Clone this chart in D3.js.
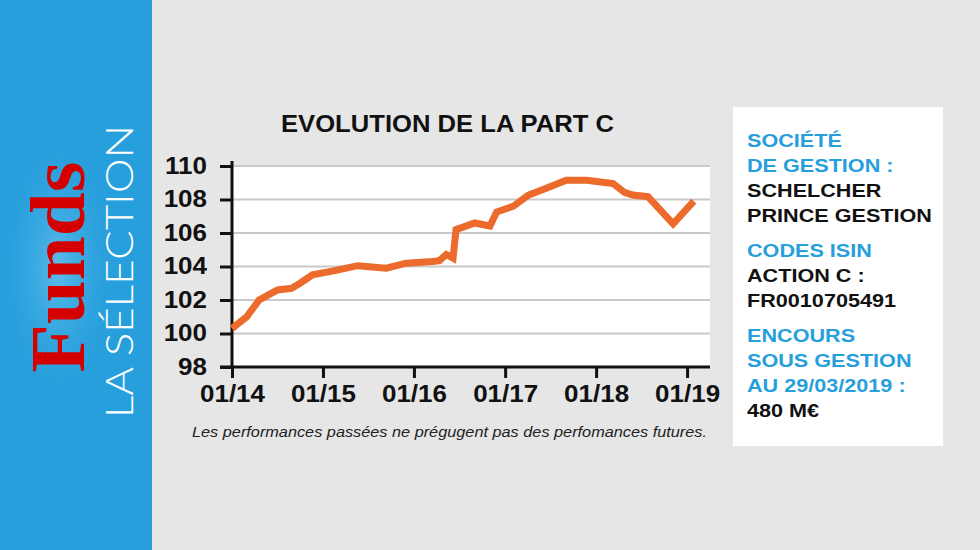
<!DOCTYPE html>
<html>
<head>
<meta charset="utf-8">
<script src="https://cdn.jsdelivr.net/npm/d3@7"></script>
<style>
  body { margin: 0; background: #e6e6e6; }
</style>
</head>
<body>
<script>
// Values
var dates = ["2014-01-01", "2014-03-01", "2014-04-20", "2014-07-03", "2014-08-28", "2014-10-01",
             "2014-11-20", "2015-02-18", "2015-05-20", "2015-09-12", "2015-12-01", "2016-03-15",
             "2016-04-12", "2016-05-10", "2016-06-06", "2016-06-18", "2016-09-01", "2016-11-01",
             "2016-11-28", "2017-02-03", "2017-04-03", "2017-06-15", "2017-09-03", "2017-11-25",
             "2018-03-10", "2018-04-25", "2018-05-28", "2018-07-28", "2018-11-06", "2019-01-28"];
var values = [100.3, 101.0, 102.0, 102.6, 102.7, 103.0,
              103.5, 103.75, 104.05, 103.9, 104.2, 104.3,
              104.35, 104.72, 104.5, 106.2, 106.6, 106.42,
              107.25, 107.6, 108.25, 108.67, 109.15, 109.15,
              108.95, 108.42, 108.27, 108.17, 106.55, 107.9];

var yTicks = [98, 100, 102, 104, 106, 108, 110];
var xTickDates = ["2014-01-01", "2015-01-01", "2016-01-01", "2017-01-01", "2018-01-01", "2019-01-01"];
var xTickLabels = ["01/14", "01/15", "01/16", "01/17", "01/18", "01/19"];

var chartTitle = "EVOLUTION DE LA PART C";
var disclaimer = "Les performances passées ne prégugent pas des perfomances futures.";

var infoHeadings = [["SOCIÉTÉ", "DE GESTION :"], ["CODES ISIN"], ["ENCOURS", "SOUS GESTION", "AU 29/03/2019 :"]];
var infoValues = [["SCHELCHER", "PRINCE GESTION"], ["ACTION C :", "FR0010705491"], ["480 M€"]];

var blue = "#279fdc";
var orange = "#eb6a2c";
var stretch = 1.13;   // the type in the reference looks widened

var parseDate = d3.timeParse("%Y-%m-%d");

var w = 980, h = 550;
var svg = d3.select("body").append("svg")
            .attr("width", w)
            .attr("height", h);

svg.append("rect").attr("width", w).attr("height", h).attr("fill", "#e6e6e6");

// Sidebar
var defs = svg.append("defs");
var glow = defs.append("radialGradient").attr("id", "glow")
               .attr("cx", "50%").attr("cy", "50%").attr("r", "50%");
glow.append("stop").attr("offset", "0%").attr("stop-color", "#6cc3ee").attr("stop-opacity", 0.8);
glow.append("stop").attr("offset", "100%").attr("stop-color", blue).attr("stop-opacity", 0);

svg.append("rect").attr("x", 0).attr("y", 0).attr("width", 152).attr("height", h).attr("fill", blue);
svg.append("ellipse").attr("cx", 58).attr("cy", 268).attr("rx", 60).attr("ry", 140).attr("fill", "url(#glow)");

svg.append("text")
   .attr("transform", "translate(84,267) rotate(-90)")
   .attr("text-anchor", "middle")
   .attr("font-family", "'Liberation Serif', 'DejaVu Serif', serif")
   .attr("font-weight", "bold")
   .attr("font-size", 79)
   .attr("fill", "#d40000")
   .text("Funds");

svg.append("text")
   .attr("transform", "translate(133,418) rotate(-90)")
   .attr("font-family", "Lato, 'Open Sans', sans-serif")
   .attr("font-weight", 300)
   .attr("font-size", 38)
   .attr("fill", "#ffffff")
   .attr("textLength", 293)
   .attr("lengthAdjust", "spacingAndGlyphs")
   .text("LA SÉLECTION");

// Chart
var x = d3.scaleTime()
          .domain([parseDate("2014-01-01"), parseDate("2019-04-03")])
          .range([232, 710]);
var y = d3.scaleLinear()
          .domain([98, 110])
          .range([367, 166]);

var font = "'Liberation Sans', Arial, Helvetica, sans-serif";

svg.append("text")
   .attr("x", 281).attr("y", 132)
   .attr("font-family", font)
   .attr("font-weight", "bold")
   .attr("font-size", 23)
   .attr("fill", "#111")
   .attr("textLength", 333)
   .attr("lengthAdjust", "spacingAndGlyphs")
   .text(chartTitle);

svg.append("rect")
   .attr("x", x.range()[0]).attr("y", y(110))
   .attr("width", x.range()[1] - x.range()[0])
   .attr("height", y(98) - y(110))
   .attr("fill", "#ffffff");

// gridlines
svg.append("g").selectAll("line")
   .data(yTicks.filter(function(t) { return t > 98; }))
   .enter().append("line")
   .attr("x1", x.range()[0]).attr("x2", x.range()[1])
   .attr("y1", function(d) { return y(d); })
   .attr("y2", function(d) { return y(d); })
   .attr("stroke", "#c9c9c9")
   .attr("stroke-width", 2);

// axes
var yAxis = d3.axisLeft(y).tickValues(yTicks).tickSize(12).tickSizeOuter(0).tickFormat(d3.format("d"));
var xAxis = d3.axisBottom(x).tickValues(xTickDates.map(parseDate)).tickSize(11).tickSizeOuter(0)
              .tickFormat(function(d, i) { return xTickLabels[i]; });

var gy = svg.append("g").attr("transform", "translate(232,0)").call(yAxis);
var gx = svg.append("g").attr("transform", "translate(0,367)").call(xAxis);

[gx, gy].forEach(function(g) {
  g.select(".domain").remove();
  g.selectAll(".tick line").attr("stroke", "#111").attr("stroke-width", 3);
  g.selectAll(".tick text")
   .attr("font-family", font)
   .attr("font-weight", "bold")
   .attr("font-size", 23)
   .attr("fill", "#111");
});

gy.selectAll(".tick text")
  .attr("x", 0)
  .attr("transform", "translate(-25,0) scale(" + stretch + ",1)");
gx.selectAll(".tick text")
  .attr("y", 19)
  .attr("transform", "scale(" + stretch + ",1)");

// axis lines
svg.append("line")
   .attr("x1", 232).attr("x2", 232).attr("y1", 161).attr("y2", 368.5)
   .attr("stroke", "#111").attr("stroke-width", 3);
svg.append("line")
   .attr("x1", 220).attr("x2", 710).attr("y1", 367).attr("y2", 367)
   .attr("stroke", "#111").attr("stroke-width", 3);

// performance line
var line = d3.line()
             .x(function(d, i) { return x(parseDate(dates[i])); })
             .y(function(d) { return y(d); });

svg.append("path")
   .datum(values)
   .attr("d", line)
   .attr("fill", "none")
   .attr("stroke", orange)
   .attr("stroke-width", 7)
   .attr("stroke-linejoin", "miter");

svg.append("text")
   .attr("x", 192).attr("y", 437)
   .attr("font-family", font)
   .attr("font-style", "italic")
   .attr("font-size", 14)
   .attr("fill", "#222")
   .attr("textLength", 515)
   .attr("lengthAdjust", "spacingAndGlyphs")
   .text(disclaimer);

// Info box
svg.append("rect")
   .attr("x", 733).attr("y", 107)
   .attr("width", 210).attr("height", 339)
   .attr("fill", "#ffffff");

var lineStep = 25, groupGap = 10, ty = 146.5;
infoHeadings.forEach(function(heads, gi) {
  var rows = heads.map(function(t) { return {t: t, c: blue}; })
                  .concat(infoValues[gi].map(function(t) { return {t: t, c: "#111"}; }));
  rows.forEach(function(r) {
    svg.append("text")
       .attr("transform", "translate(747," + ty + ") scale(1.15,1)")
       .attr("font-family", font)
       .attr("font-weight", "bold")
       .attr("font-size", 18.8)
       .attr("fill", r.c)
       .text(r.t);
    ty += lineStep;
  });
  ty += groupGap;
});
</script>
</body>
</html>
